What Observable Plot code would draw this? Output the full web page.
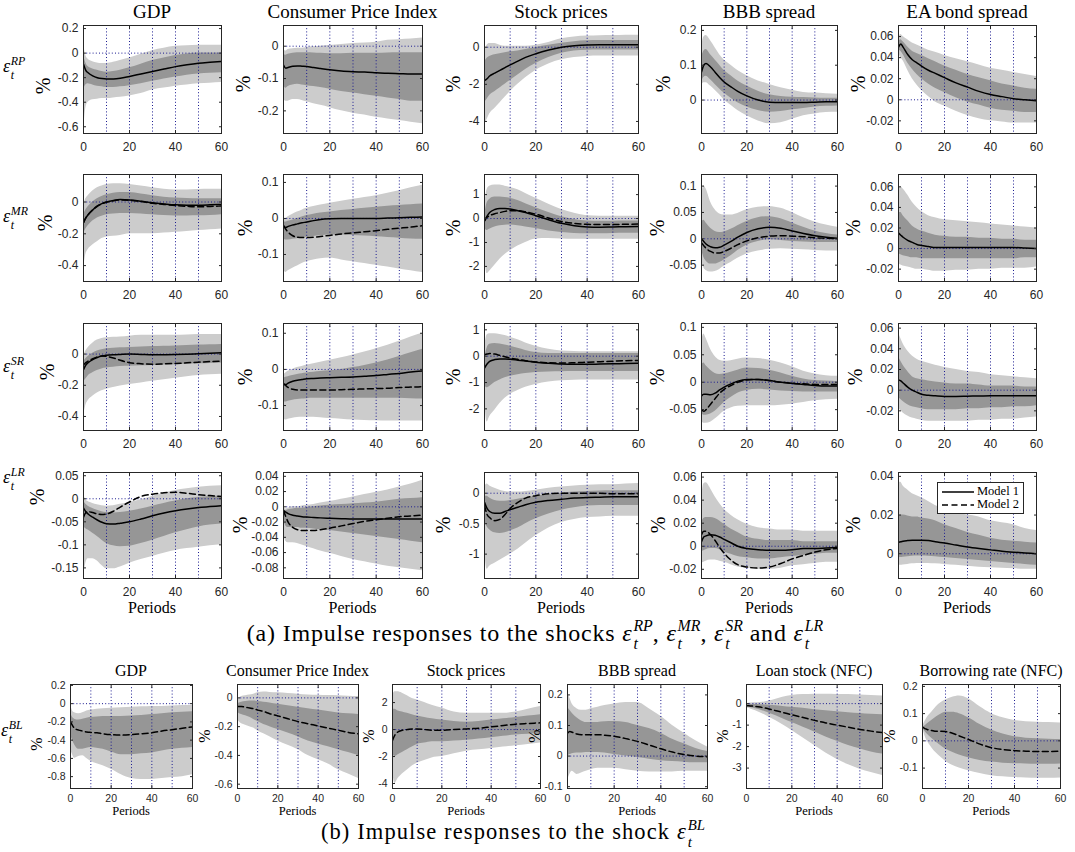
<!DOCTYPE html>
<html><head><meta charset="utf-8">
<script src="https://cdn.jsdelivr.net/npm/d3@7"></script>
<script src="https://cdn.jsdelivr.net/npm/@observablehq/plot@0.6"></script>
<style>
html,body{margin:0;padding:0;background:#fff;}
#fig{position:relative;width:1075px;height:852px;overflow:hidden;font-family:"Liberation Serif","Times New Roman",serif;color:#000;}
.txt{position:absolute;transform:translate(-50%,-50%);white-space:nowrap;line-height:1;font-family:"Liberation Serif","Times New Roman",serif;font-weight:normal;}
.title{font-size:19px;}
.titleb{font-size:16px;}
.per{font-size:16px;}
.perb{font-size:12.5px;}
.pct{font-size:20px;transform:translate(-50%,-50%) rotate(-90deg);}
.pctb{font-size:16px;transform:translate(-50%,-50%) rotate(-90deg);}
.epsl{position:absolute;white-space:nowrap;line-height:1;font-size:18px;font-family:"Liberation Serif","Times New Roman",serif;}
.cap{position:absolute;transform:translateX(-50%);white-space:nowrap;line-height:1;font-size:22.5px;letter-spacing:1.1px;font-family:"Liberation Serif","Times New Roman",serif;}
.cap.big{font-size:24px;letter-spacing:0.8px;}
.e{font-style:italic;}
.ss{display:inline-flex;flex-direction:column;font-size:0.66em;font-style:italic;line-height:1.2;vertical-align:0.62em;margin-left:0.06em;text-align:left;letter-spacing:0;}
.cap .ss{line-height:1.15;}
.ss span{display:block;}
.plot{position:absolute;}
.legend{position:absolute;border:1px solid #262626;background:#fff;font-size:12.5px;padding:2px 4px 2px 3px;line-height:13px;font-family:"Liberation Serif","Times New Roman",serif;}
.legend svg{vertical-align:middle;margin-right:2px;}
</style></head><body><div id="fig"></div><script>
// ---------------- data ----------------
const P = [0,1,2,4,6,8,10,13,16,20,25,30,35,40,45,50,55,60];
const XTICKS = [0,20,40,60];
const GRIDX = [10,20,30,40,50];
const VARS_A = ["GDP","Consumer Price Index","Stock prices","BBB spread","EA bond spread"];
const VARS_B = ["GDP","Consumer Price Index","Stock prices","BBB spread","Loan stock (NFC)","Borrowing rate (NFC)"];
const SHOCKS_A = ["RP","MR","SR","LR"];
const SHOCK_B = "BL";
const MODELS = ["Model 1","Model 2"];
// rows of each panel: outer low, inner low, inner high, outer high, Model 1, Model 2
const RP_GDP = [
 [-0.65,-0.45,-0.40,-0.38,-0.375,-0.37,-0.37,-0.365,-0.36,-0.35,-0.33,-0.30,-0.285,-0.27,-0.26,-0.25,-0.245,-0.24],
 [-0.30,-0.26,-0.25,-0.26,-0.27,-0.275,-0.28,-0.28,-0.275,-0.265,-0.25,-0.23,-0.21,-0.195,-0.18,-0.17,-0.165,-0.16],
 [-0.02,-0.08,-0.11,-0.13,-0.14,-0.15,-0.155,-0.15,-0.14,-0.12,-0.09,-0.06,-0.04,-0.02,-0.008,0,0,0],
 [0.08,-0.02,-0.05,-0.07,-0.08,-0.085,-0.085,-0.075,-0.06,-0.04,-0.01,0.02,0.04,0.055,0.06,0.065,0.065,0.065],
 [-0.09,-0.14,-0.16,-0.185,-0.2,-0.207,-0.21,-0.21,-0.205,-0.19,-0.17,-0.15,-0.13,-0.11,-0.095,-0.083,-0.075,-0.068],
 null];
const RP_CPI = [
 [-0.165,-0.17,-0.17,-0.165,-0.165,-0.168,-0.172,-0.178,-0.183,-0.19,-0.2,-0.207,-0.213,-0.22,-0.225,-0.23,-0.235,-0.24],
 [-0.12,-0.13,-0.125,-0.12,-0.118,-0.12,-0.122,-0.125,-0.128,-0.133,-0.14,-0.145,-0.15,-0.155,-0.16,-0.165,-0.17,-0.17],
 [-0.025,-0.028,-0.025,-0.022,-0.02,-0.02,-0.02,-0.021,-0.022,-0.023,-0.023,-0.022,-0.022,-0.022,-0.021,-0.02,-0.02,-0.02],
 [-0.01,-0.015,-0.01,-0.008,-0.006,-0.006,-0.004,-0.002,0,0.002,0.005,0.008,0.01,0.012,0.018,0.02,0.022,0.025],
 [-0.058,-0.068,-0.066,-0.062,-0.061,-0.062,-0.063,-0.066,-0.069,-0.073,-0.077,-0.079,-0.08,-0.082,-0.084,-0.085,-0.086,-0.086],
 null];
const RP_STOCK = [
 [-4.2,-3.9,-3.6,-3.3,-3.0,-2.7,-2.4,-2.0,-1.65,-1.25,-0.9,-0.68,-0.56,-0.5,-0.48,-0.48,-0.48,-0.48],
 [-3.0,-2.8,-2.6,-2.4,-2.2,-2.0,-1.8,-1.5,-1.2,-0.88,-0.55,-0.32,-0.2,-0.16,-0.15,-0.15,-0.15,-0.15],
 [-0.8,-0.6,-0.5,-0.4,-0.35,-0.3,-0.25,-0.2,-0.12,-0.02,0.1,0.22,0.3,0.35,0.36,0.36,0.36,0.36],
 [-0.2,0.1,0.2,0.2,0.1,0.05,0.05,0.05,0.05,0.1,0.25,0.45,0.55,0.6,0.62,0.63,0.65,0.65],
 [-1.8,-1.7,-1.55,-1.4,-1.25,-1.1,-0.95,-0.75,-0.55,-0.35,-0.15,0,0.08,0.12,0.13,0.13,0.13,0.13],
 null];
const RP_BBB = [
 [0.04,0.05,0.05,0.04,0.028,0.015,0,-0.015,-0.03,-0.045,-0.06,-0.068,-0.065,-0.055,-0.045,-0.04,-0.036,-0.035],
 [0.05,0.065,0.068,0.058,0.045,0.032,0.02,0.005,-0.008,-0.02,-0.03,-0.035,-0.033,-0.028,-0.024,-0.02,-0.018,-0.017],
 [0.12,0.14,0.145,0.13,0.115,0.1,0.085,0.07,0.055,0.04,0.025,0.015,0.01,0.008,0.007,0.006,0.005,0.005],
 [0.15,0.18,0.185,0.17,0.15,0.13,0.115,0.1,0.085,0.07,0.055,0.045,0.035,0.028,0.022,0.02,0.018,0.017],
 [0.08,0.1,0.105,0.095,0.08,0.065,0.052,0.038,0.025,0.012,0,-0.006,-0.007,-0.007,-0.007,-0.006,-0.005,-0.005],
 null];
const RP_EA = [
 [0.044,0.04,0.037,0.028,0.02,0.014,0.009,0.003,-0.002,-0.006,-0.011,-0.015,-0.018,-0.02,-0.021,-0.022,-0.022,-0.022],
 [0.047,0.046,0.043,0.035,0.029,0.024,0.02,0.015,0.011,0.007,0.002,-0.002,-0.005,-0.008,-0.01,-0.011,-0.012,-0.012],
 [0.055,0.057,0.055,0.05,0.046,0.044,0.042,0.039,0.036,0.032,0.028,0.024,0.021,0.018,0.015,0.013,0.011,0.01],
 [0.058,0.062,0.06,0.057,0.054,0.052,0.05,0.047,0.045,0.042,0.039,0.036,0.033,0.03,0.028,0.026,0.024,0.022],
 [0.05,0.053,0.05,0.043,0.038,0.035,0.032,0.028,0.025,0.021,0.016,0.012,0.008,0.005,0.003,0.001,0,-0.001],
 null];
const MR_GDP = [
 [-0.42,-0.33,-0.3,-0.27,-0.25,-0.23,-0.22,-0.215,-0.21,-0.2,-0.2,-0.2,-0.195,-0.19,-0.185,-0.18,-0.175,-0.17],
 [-0.2,-0.17,-0.15,-0.12,-0.1,-0.09,-0.08,-0.075,-0.072,-0.072,-0.075,-0.08,-0.085,-0.088,-0.088,-0.087,-0.085,-0.08],
 [-0.08,-0.05,-0.03,0,0.02,0.035,0.045,0.055,0.06,0.06,0.05,0.04,0.03,0.025,0.022,0.02,0.02,0.02],
 [-0.02,0.02,0.04,0.07,0.09,0.1,0.11,0.115,0.115,0.11,0.1,0.09,0.08,0.075,0.075,0.078,0.08,0.08],
 [-0.13,-0.1,-0.08,-0.05,-0.025,-0.01,0,0.01,0.015,0.013,0.005,-0.005,-0.012,-0.018,-0.02,-0.02,-0.018,-0.015],
 [-0.13,-0.1,-0.08,-0.05,-0.027,-0.012,-0.002,0.008,0.013,0.011,0.003,-0.008,-0.015,-0.022,-0.027,-0.03,-0.028,-0.025]];
const MR_CPI = [
 [-0.14,-0.15,-0.145,-0.138,-0.132,-0.125,-0.12,-0.115,-0.112,-0.11,-0.115,-0.12,-0.125,-0.13,-0.135,-0.14,-0.145,-0.15],
 [-0.055,-0.06,-0.06,-0.058,-0.056,-0.054,-0.052,-0.05,-0.048,-0.046,-0.046,-0.047,-0.049,-0.051,-0.053,-0.055,-0.057,-0.058],
 [-0.01,-0.01,-0.008,-0.004,0,0.004,0.008,0.012,0.015,0.018,0.022,0.025,0.028,0.031,0.034,0.036,0.038,0.04],
 [-0.005,0,0.005,0.012,0.018,0.023,0.028,0.033,0.037,0.042,0.048,0.053,0.058,0.063,0.07,0.077,0.085,0.092],
 [-0.02,-0.025,-0.022,-0.018,-0.015,-0.012,-0.01,-0.006,-0.003,-0.001,0,0,0,0,0.001,0.002,0.003,0.004],
 [-0.02,-0.03,-0.038,-0.048,-0.052,-0.053,-0.053,-0.052,-0.05,-0.047,-0.043,-0.04,-0.037,-0.034,-0.03,-0.027,-0.024,-0.02]];
const MR_STOCK = [
 [-1.5,-2.3,-2.2,-1.95,-1.7,-1.5,-1.35,-1.15,-1.0,-0.85,-0.83,-0.85,-0.86,-0.87,-0.87,-0.86,-0.86,-0.86],
 [-0.4,-0.5,-0.45,-0.35,-0.3,-0.28,-0.27,-0.3,-0.35,-0.42,-0.52,-0.58,-0.62,-0.63,-0.63,-0.62,-0.61,-0.61],
 [0.1,0.65,0.8,0.9,0.9,0.88,0.85,0.75,0.62,0.45,0.25,0.07,-0.04,-0.1,-0.11,-0.11,-0.1,-0.1],
 [0.5,1.2,1.35,1.4,1.4,1.35,1.3,1.2,1.05,0.85,0.6,0.38,0.22,0.12,0.1,0.1,0.1,0.1],
 [-0.1,0.1,0.25,0.38,0.42,0.42,0.4,0.33,0.25,0.12,-0.05,-0.2,-0.3,-0.35,-0.36,-0.35,-0.34,-0.33],
 [-0.1,0.05,0.12,0.2,0.25,0.3,0.33,0.33,0.28,0.18,0.02,-0.12,-0.2,-0.24,-0.25,-0.25,-0.24,-0.23]];
const MR_BBB = [
 [-0.04,-0.055,-0.06,-0.063,-0.062,-0.058,-0.052,-0.045,-0.037,-0.029,-0.023,-0.02,-0.019,-0.02,-0.021,-0.022,-0.023,-0.023],
 [-0.02,-0.035,-0.042,-0.048,-0.048,-0.045,-0.04,-0.032,-0.022,-0.012,-0.005,-0.002,-0.003,-0.005,-0.006,-0.007,-0.007,-0.007],
 [0.03,0.035,0.03,0.02,0.014,0.012,0.013,0.018,0.025,0.033,0.04,0.042,0.038,0.03,0.022,0.015,0.01,0.007],
 [0.08,0.1,0.095,0.07,0.055,0.047,0.045,0.045,0.048,0.055,0.06,0.061,0.058,0.05,0.04,0.032,0.026,0.022],
 [0,-0.005,-0.01,-0.015,-0.017,-0.016,-0.012,-0.005,0.003,0.012,0.019,0.022,0.02,0.015,0.01,0.006,0.003,0.001],
 [-0.008,-0.013,-0.018,-0.024,-0.027,-0.027,-0.024,-0.018,-0.011,-0.004,0.002,0.005,0.006,0.005,0.004,0.002,0.001,0]];
const MR_EA = [
 [-0.015,-0.016,-0.017,-0.018,-0.019,-0.02,-0.02,-0.021,-0.022,-0.022,-0.021,-0.021,-0.02,-0.02,-0.019,-0.019,-0.019,-0.018],
 [-0.005,-0.006,-0.007,-0.008,-0.009,-0.009,-0.01,-0.01,-0.01,-0.01,-0.01,-0.01,-0.01,-0.01,-0.01,-0.01,-0.009,-0.009],
 [0.035,0.035,0.032,0.027,0.022,0.019,0.017,0.015,0.013,0.012,0.011,0.011,0.01,0.01,0.009,0.009,0.008,0.008],
 [0.06,0.06,0.058,0.052,0.045,0.04,0.036,0.032,0.03,0.028,0.027,0.026,0.025,0.024,0.023,0.022,0.021,0.02],
 [0.015,0.013,0.011,0.008,0.006,0.004,0.003,0.002,0.001,0.001,0.001,0.001,0.001,0.001,0.001,0.001,0.0005,0],
 null];
const SR_GDP = [
 [-0.4,-0.33,-0.3,-0.27,-0.25,-0.235,-0.225,-0.215,-0.205,-0.195,-0.185,-0.175,-0.165,-0.155,-0.145,-0.138,-0.133,-0.13],
 [-0.18,-0.16,-0.14,-0.12,-0.105,-0.095,-0.09,-0.085,-0.08,-0.078,-0.075,-0.073,-0.07,-0.068,-0.065,-0.062,-0.06,-0.058],
 [-0.05,-0.03,-0.015,0.005,0.02,0.028,0.034,0.038,0.04,0.042,0.045,0.048,0.05,0.052,0.055,0.058,0.06,0.062],
 [-0.01,0.02,0.04,0.07,0.09,0.1,0.105,0.108,0.11,0.115,0.12,0.12,0.12,0.12,0.122,0.125,0.125,0.125],
 [-0.1,-0.07,-0.055,-0.035,-0.022,-0.013,-0.008,-0.004,-0.002,0,-0.002,-0.004,-0.004,-0.003,-0.001,0.002,0.005,0.008],
 [-0.07,-0.055,-0.045,-0.03,-0.018,-0.012,-0.015,-0.025,-0.04,-0.055,-0.062,-0.065,-0.063,-0.06,-0.056,-0.052,-0.048,-0.045]];
const SR_CPI = [
 [-0.135,-0.14,-0.138,-0.135,-0.133,-0.132,-0.132,-0.132,-0.134,-0.136,-0.138,-0.14,-0.141,-0.142,-0.143,-0.143,-0.143,-0.143],
 [-0.09,-0.09,-0.088,-0.085,-0.083,-0.082,-0.081,-0.08,-0.08,-0.08,-0.08,-0.08,-0.08,-0.08,-0.08,-0.08,-0.081,-0.082],
 [-0.025,-0.022,-0.02,-0.017,-0.014,-0.012,-0.01,-0.008,-0.006,-0.004,0,0.005,0.011,0.018,0.026,0.036,0.046,0.056],
 [-0.015,-0.01,-0.005,0,0.005,0.008,0.012,0.016,0.02,0.025,0.032,0.04,0.048,0.057,0.067,0.078,0.09,0.1],
 [-0.04,-0.042,-0.038,-0.033,-0.03,-0.028,-0.026,-0.025,-0.024,-0.023,-0.022,-0.021,-0.019,-0.017,-0.014,-0.011,-0.007,-0.004],
 [-0.04,-0.045,-0.05,-0.055,-0.057,-0.057,-0.057,-0.057,-0.057,-0.057,-0.056,-0.055,-0.054,-0.053,-0.052,-0.05,-0.049,-0.048]];
const SR_STOCK = [
 [-1.6,-2.5,-2.3,-2.05,-1.8,-1.6,-1.45,-1.3,-1.18,-1.07,-0.98,-0.93,-0.91,-0.9,-0.9,-0.9,-0.9,-0.9],
 [-1.1,-1.2,-1.15,-1.0,-0.9,-0.82,-0.76,-0.7,-0.66,-0.62,-0.6,-0.59,-0.58,-0.58,-0.58,-0.58,-0.58,-0.58],
 [-0.1,0.3,0.45,0.48,0.46,0.42,0.38,0.3,0.22,0.14,0.1,0.1,0.1,0.1,0.1,0.1,0.1,0.1],
 [0.3,0.8,0.85,0.85,0.82,0.78,0.72,0.62,0.5,0.38,0.26,0.2,0.18,0.17,0.17,0.17,0.17,0.17],
 [-0.45,-0.3,-0.2,-0.13,-0.11,-0.11,-0.12,-0.15,-0.18,-0.23,-0.27,-0.3,-0.31,-0.31,-0.3,-0.29,-0.28,-0.27],
 [0.05,0.08,0.1,0.08,0.03,-0.02,-0.07,-0.12,-0.17,-0.22,-0.25,-0.26,-0.25,-0.23,-0.21,-0.19,-0.17,-0.16]];
const SR_BBB = [
 [-0.07,-0.075,-0.075,-0.073,-0.067,-0.06,-0.053,-0.047,-0.044,-0.043,-0.043,-0.043,-0.042,-0.04,-0.037,-0.034,-0.032,-0.031],
 [-0.055,-0.06,-0.06,-0.058,-0.053,-0.045,-0.037,-0.028,-0.02,-0.015,-0.013,-0.014,-0.016,-0.017,-0.018,-0.018,-0.018,-0.018],
 [0.03,0.035,0.03,0.022,0.016,0.014,0.015,0.018,0.022,0.026,0.025,0.022,0.017,0.011,0.006,0.003,0.002,0.001],
 [0.07,0.088,0.08,0.06,0.047,0.04,0.038,0.039,0.042,0.044,0.043,0.04,0.035,0.028,0.02,0.015,0.012,0.011],
 [-0.025,-0.022,-0.022,-0.023,-0.02,-0.014,-0.009,-0.003,0.002,0.005,0.005,0.003,0,-0.002,-0.004,-0.006,-0.007,-0.007],
 [-0.05,-0.053,-0.05,-0.04,-0.03,-0.02,-0.013,-0.006,0,0.004,0.005,0.003,0,-0.002,-0.003,-0.004,-0.004,-0.004]];
const SR_EA = [
 [-0.017,-0.02,-0.022,-0.025,-0.027,-0.028,-0.029,-0.03,-0.03,-0.03,-0.03,-0.03,-0.029,-0.029,-0.028,-0.028,-0.027,-0.026],
 [-0.007,-0.009,-0.011,-0.014,-0.016,-0.017,-0.018,-0.019,-0.019,-0.019,-0.019,-0.018,-0.018,-0.017,-0.017,-0.016,-0.016,-0.015],
 [0.032,0.028,0.024,0.018,0.013,0.011,0.01,0.009,0.008,0.007,0.006,0.006,0.005,0.004,0.004,0.004,0.003,0.003],
 [0.055,0.05,0.045,0.038,0.033,0.03,0.028,0.026,0.024,0.022,0.02,0.018,0.017,0.015,0.014,0.013,0.012,0.011],
 [0.01,0.009,0.007,0.003,0,-0.002,-0.004,-0.005,-0.0055,-0.006,-0.006,-0.0058,-0.0056,-0.0055,-0.0055,-0.0055,-0.0055,-0.0055],
 null];
const LR_GDP = [
 [-0.17,-0.14,-0.13,-0.13,-0.135,-0.145,-0.152,-0.152,-0.148,-0.14,-0.132,-0.125,-0.118,-0.112,-0.108,-0.105,-0.102,-0.1],
 [-0.06,-0.065,-0.068,-0.075,-0.082,-0.09,-0.097,-0.102,-0.104,-0.103,-0.097,-0.09,-0.082,-0.074,-0.067,-0.061,-0.057,-0.055],
 [-0.005,-0.012,-0.016,-0.021,-0.025,-0.028,-0.03,-0.031,-0.03,-0.027,-0.022,-0.016,-0.01,-0.005,0,0.003,0.005,0.006],
 [0.01,-0.002,-0.006,-0.01,-0.013,-0.015,-0.016,-0.015,-0.012,-0.008,-0.002,0.005,0.012,0.018,0.022,0.025,0.027,0.028],
 [-0.02,-0.028,-0.033,-0.04,-0.046,-0.051,-0.054,-0.055,-0.053,-0.05,-0.044,-0.037,-0.031,-0.026,-0.022,-0.019,-0.017,-0.015],
 [-0.04,-0.03,-0.028,-0.03,-0.033,-0.034,-0.033,-0.027,-0.018,-0.007,0.005,0.01,0.013,0.014,0.012,0.009,0.007,0.005]];
const LR_CPI = [
 [-0.035,-0.045,-0.047,-0.047,-0.048,-0.05,-0.052,-0.055,-0.058,-0.061,-0.065,-0.069,-0.072,-0.075,-0.078,-0.08,-0.082,-0.084],
 [-0.015,-0.025,-0.027,-0.027,-0.027,-0.028,-0.028,-0.029,-0.03,-0.031,-0.033,-0.035,-0.037,-0.039,-0.041,-0.043,-0.045,-0.047],
 [-0.003,-0.005,-0.004,-0.003,-0.002,-0.002,-0.001,0,0.001,0.002,0.003,0.004,0.005,0.006,0.008,0.01,0.011,0.012],
 [0,-0.003,-0.002,0,0,0.001,0.002,0.003,0.005,0.007,0.01,0.013,0.016,0.019,0.022,0.026,0.03,0.035],
 [-0.005,-0.007,-0.009,-0.011,-0.012,-0.013,-0.0135,-0.014,-0.0145,-0.015,-0.0155,-0.016,-0.016,-0.016,-0.016,-0.016,-0.016,-0.016],
 [-0.005,-0.013,-0.02,-0.027,-0.03,-0.031,-0.031,-0.031,-0.03,-0.028,-0.025,-0.022,-0.019,-0.017,-0.015,-0.013,-0.012,-0.011]];
const LR_STOCK = [
 [-0.9,-1.25,-1.2,-1.15,-1.1,-1.05,-1.0,-0.92,-0.82,-0.7,-0.57,-0.48,-0.43,-0.4,-0.39,-0.38,-0.38,-0.38],
 [-0.45,-0.55,-0.6,-0.65,-0.66,-0.65,-0.62,-0.57,-0.5,-0.42,-0.34,-0.28,-0.24,-0.21,-0.2,-0.2,-0.2,-0.2],
 [-0.05,-0.05,-0.08,-0.12,-0.13,-0.13,-0.12,-0.1,-0.08,-0.05,-0.02,0,0.02,0.03,0.035,0.04,0.04,0.04],
 [0.1,0.15,0.12,0.08,0.05,0.03,0.02,0.02,0.03,0.05,0.08,0.1,0.12,0.13,0.14,0.14,0.15,0.16],
 [-0.15,-0.25,-0.3,-0.33,-0.33,-0.3,-0.27,-0.23,-0.19,-0.15,-0.12,-0.1,-0.08,-0.07,-0.065,-0.06,-0.06,-0.06],
 [-0.2,-0.35,-0.4,-0.45,-0.43,-0.35,-0.25,-0.15,-0.08,-0.04,-0.01,0,0,0,0,-0.01,-0.01,-0.01]];
const LR_BBB = [
 [-0.015,-0.014,-0.013,-0.012,-0.012,-0.013,-0.014,-0.016,-0.018,-0.019,-0.02,-0.02,-0.019,-0.017,-0.016,-0.015,-0.014,-0.014],
 [-0.005,-0.004,-0.003,-0.002,-0.002,-0.003,-0.005,-0.007,-0.009,-0.01,-0.011,-0.011,-0.01,-0.009,-0.008,-0.007,-0.006,-0.006],
 [0.02,0.024,0.025,0.025,0.024,0.022,0.019,0.015,0.012,0.008,0.006,0.005,0.005,0.005,0.004,0.004,0.004,0.004],
 [0.04,0.054,0.055,0.05,0.043,0.037,0.032,0.027,0.023,0.019,0.016,0.015,0.014,0.014,0.013,0.013,0.013,0.013],
 [0.004,0.008,0.009,0.01,0.0095,0.008,0.006,0.003,0,-0.002,-0.003,-0.0035,-0.0035,-0.003,-0.002,-0.002,-0.0015,-0.001],
 [0.01,0.013,0.013,0.01,0.005,-0.001,-0.006,-0.012,-0.016,-0.018,-0.019,-0.018,-0.015,-0.011,-0.008,-0.005,-0.003,-0.002]];
const LR_EA = [
 [-0.006,-0.006,-0.0058,-0.0055,-0.0052,-0.005,-0.005,-0.005,-0.0052,-0.0055,-0.006,-0.0065,-0.007,-0.0072,-0.0075,-0.0078,-0.008,-0.008],
 [-0.002,-0.002,-0.0018,-0.0015,-0.0013,-0.0012,-0.0012,-0.0013,-0.0015,-0.002,-0.0025,-0.003,-0.0035,-0.004,-0.0045,-0.005,-0.0055,-0.006],
 [0.02,0.02,0.02,0.0195,0.019,0.019,0.0185,0.018,0.017,0.015,0.013,0.011,0.0095,0.008,0.007,0.0065,0.006,0.0055],
 [0.037,0.037,0.035,0.033,0.031,0.03,0.029,0.027,0.025,0.023,0.021,0.02,0.019,0.017,0.016,0.015,0.013,0.012],
 [0.006,0.0062,0.0065,0.0068,0.007,0.007,0.007,0.0068,0.0062,0.0055,0.0045,0.0035,0.0027,0.002,0.0013,0.0008,0.0004,0],
 null];
const BL_GDP = [
 [-0.5,-0.56,-0.6,-0.58,-0.57,-0.6,-0.63,-0.66,-0.68,-0.72,-0.78,-0.82,-0.83,-0.83,-0.82,-0.81,-0.8,-0.78],
 [-0.35,-0.4,-0.45,-0.5,-0.5,-0.49,-0.48,-0.49,-0.5,-0.53,-0.56,-0.56,-0.55,-0.54,-0.52,-0.5,-0.49,-0.48],
 [-0.1,-0.15,-0.17,-0.18,-0.17,-0.16,-0.15,-0.145,-0.14,-0.14,-0.14,-0.135,-0.13,-0.12,-0.11,-0.1,-0.095,-0.09],
 [0,-0.08,-0.1,-0.11,-0.1,-0.08,-0.07,-0.06,-0.055,-0.05,-0.045,-0.04,-0.035,-0.03,-0.03,-0.025,-0.02,-0.02],
 null,
 [-0.2,-0.24,-0.27,-0.29,-0.3,-0.31,-0.315,-0.32,-0.33,-0.34,-0.345,-0.34,-0.33,-0.32,-0.3,-0.285,-0.27,-0.255]];
const BL_CPI = [
 [-0.15,-0.17,-0.18,-0.19,-0.2,-0.21,-0.23,-0.25,-0.27,-0.3,-0.33,-0.36,-0.4,-0.43,-0.46,-0.5,-0.53,-0.56],
 [-0.1,-0.11,-0.115,-0.125,-0.135,-0.15,-0.165,-0.185,-0.2,-0.22,-0.245,-0.27,-0.3,-0.32,-0.34,-0.36,-0.38,-0.4],
 [-0.04,-0.035,-0.03,-0.025,-0.022,-0.022,-0.025,-0.03,-0.035,-0.045,-0.055,-0.065,-0.075,-0.085,-0.095,-0.105,-0.11,-0.115],
 [-0.02,0,0.01,0.015,0.02,0.025,0.035,0.04,0.038,0.035,0.03,0.025,0.02,0.018,0.016,0.015,0.012,0.01],
 null,
 [-0.06,-0.06,-0.06,-0.065,-0.07,-0.075,-0.085,-0.095,-0.11,-0.125,-0.145,-0.165,-0.18,-0.195,-0.21,-0.225,-0.24,-0.25]];
const BL_STOCK = [
 [-3.0,-4.0,-3.7,-3.3,-3.0,-2.7,-2.5,-2.3,-2.1,-2.0,-1.8,-1.6,-1.5,-1.4,-1.3,-1.2,-1.1,-1.0],
 [-1.8,-2.0,-1.9,-1.7,-1.5,-1.3,-1.1,-1.0,-0.9,-0.9,-0.85,-0.8,-0.7,-0.6,-0.5,-0.4,-0.35,-0.3],
 [1.5,1.5,1.4,1.3,1.2,1.1,1.0,0.9,0.8,0.7,0.6,0.55,0.6,0.7,0.8,0.9,1.0,1.1],
 [2.5,2.8,2.8,2.7,2.5,2.3,2.2,2.0,1.8,1.6,1.3,1.2,1.2,1.2,1.2,1.3,1.5,1.7],
 null,
 [-0.8,-0.4,-0.2,-0.05,0,0.05,0.05,0,-0.05,-0.05,0,0.05,0.1,0.2,0.3,0.4,0.45,0.5]];
const BL_BBB = [
 [-0.08,-0.06,-0.05,-0.06,-0.055,-0.05,-0.045,-0.04,-0.04,-0.04,-0.045,-0.05,-0.052,-0.052,-0.052,-0.05,-0.05,-0.05],
 [0,0.005,0.008,0.01,0.01,0.012,0.012,0.012,0.01,0.005,0,-0.005,-0.01,-0.015,-0.018,-0.02,-0.022,-0.022],
 [0.16,0.15,0.14,0.125,0.115,0.11,0.11,0.11,0.112,0.113,0.11,0.1,0.09,0.075,0.055,0.04,0.025,0.015],
 [0.21,0.19,0.17,0.155,0.15,0.15,0.155,0.16,0.165,0.17,0.175,0.175,0.155,0.13,0.1,0.075,0.05,0.03],
 null,
 [0.075,0.08,0.078,0.072,0.07,0.07,0.07,0.07,0.068,0.065,0.057,0.048,0.036,0.024,0.013,0.005,0,-0.002]];
const BL_LOAN = [
 [-0.2,-0.22,-0.26,-0.33,-0.42,-0.52,-0.63,-0.8,-0.98,-1.25,-1.6,-1.95,-2.3,-2.6,-2.85,-3.05,-3.2,-3.35],
 [-0.15,-0.17,-0.19,-0.24,-0.3,-0.37,-0.45,-0.57,-0.7,-0.88,-1.1,-1.32,-1.55,-1.75,-1.95,-2.1,-2.25,-2.35],
 [-0.05,-0.04,-0.04,-0.04,-0.05,-0.06,-0.07,-0.1,-0.13,-0.17,-0.22,-0.28,-0.33,-0.38,-0.42,-0.46,-0.5,-0.52],
 [0,0.02,0.03,0.04,0.05,0.08,0.12,0.2,0.3,0.38,0.42,0.44,0.44,0.43,0.42,0.4,0.38,0.36],
 null,
 [-0.1,-0.1,-0.11,-0.13,-0.16,-0.2,-0.25,-0.33,-0.41,-0.52,-0.65,-0.78,-0.9,-1.0,-1.1,-1.2,-1.28,-1.35]];
const BL_RATE = [
 [0.05,0.02,0,-0.025,-0.045,-0.06,-0.075,-0.09,-0.1,-0.11,-0.12,-0.128,-0.132,-0.135,-0.136,-0.137,-0.137,-0.136],
 [0.05,0.035,0.025,0.01,-0.005,-0.018,-0.03,-0.042,-0.052,-0.062,-0.072,-0.078,-0.082,-0.084,-0.085,-0.086,-0.086,-0.085],
 [0.05,0.055,0.062,0.075,0.088,0.098,0.105,0.105,0.1,0.085,0.06,0.04,0.025,0.015,0.01,0.008,0.006,0.005],
 [0.05,0.07,0.085,0.105,0.125,0.14,0.15,0.16,0.165,0.155,0.125,0.1,0.085,0.075,0.07,0.068,0.067,0.066],
 null,
 [0.05,0.045,0.042,0.038,0.035,0.035,0.034,0.028,0.018,0.005,-0.012,-0.025,-0.032,-0.036,-0.038,-0.039,-0.039,-0.038]];
// y-axis domains and tick values, per row of panels
const Y_RP = [[-0.655,0.225],[-0.27,0.064],[-4.65,1.17],[-0.096,0.214],[-0.032,0.0705]];
const T_RP = [[-0.6,-0.4,-0.2,0,0.2],[-0.2,-0.1,0],[-4,-2,0],[0,0.1,0.2],[-0.02,0,0.02,0.04,0.06]];
const Y_MR = [[-0.5,0.173],[-0.175,0.122],[-2.63,1.84],[-0.081,0.122],[-0.032,0.072]];
const T_MR = [[-0.4,-0.2,0],[-0.1,0,0.1],[-2,-1,0,1],[-0.05,0,0.05,0.1],[-0.02,0,0.02,0.04,0.06]];
const Y_SR = [[-0.49,0.196],[-0.169,0.127],[-2.82,1.24],[-0.088,0.107],[-0.039,0.0645]];
const T_SR = [[-0.4,-0.2,0],[-0.1,0,0.1],[-2,-1,0,1],[-0.05,0,0.05,0.1],[-0.02,0,0.02,0.04,0.06]];
const Y_LR = [[-0.173,0.057],[-0.094,0.045],[-1.4,0.34],[-0.028,0.064],[-0.0128,0.042]];
const T_LR = [[-0.15,-0.1,-0.05,0,0.05],[-0.08,-0.06,-0.04,-0.02,0,0.02,0.04],[-1,-0.5,0],[-0.02,0,0.02,0.04,0.06],[0,0.02,0.04]];
const Y_BL = [[-0.93,0.21],[-0.63,0.093],[-4.37,3.34],[-0.106,0.234],[-3.95,0.89],[-0.175,0.207]];
const T_BL = [[-0.8,-0.6,-0.4,-0.2,0,0.2],[-0.6,-0.4,-0.2,0],[-4,-2,0,2],[-0.1,0,0.1,0.2],[-3,-2,-1,0],[-0.1,0,0.1,0.2]];

// ---------------- layout ----------------
const fig = document.getElementById("fig");
const COLS_A = [[83,221],[283,422],[484,638],[701,837],[898,1036]];
const ROWS_A = [[25,133],[174,281],[323,430],[472,578]];
const COLS_B = [[70,192],[237,358],[392,540],[567,707],[746,882],[922,1060]];
const ROW_B = [684,788];
const PCT_A = [
 [[40,7],[40,5],[31,5],[38,5],[40,5]],
 [[38,-5],[38,0],[31,0],[44,0],[45,0]],
 [[36,-5],[38,0],[31,0],[44,0],[43,0]],
 [[46,-28],[43,0],[41,0],[43,0],[45,0]]];
const EPS_A_TOP = [54,204,354,465];

function el(cls, html, x, y){
  const d=document.createElement("div"); d.className=cls; d.innerHTML=html;
  d.style.left=x+"px"; d.style.top=y+"px"; fig.appendChild(d); return d;
}
function eps(s){ return `<span class="e">ε</span><span class="ss"><span>${s}</span><span>t</span></span>`; }
// caption: horizontally centred; its plain-text part starts at contentTop
function caption(cls, html, cx, contentTop){
  const d = el(cls, html, cx, 0);
  const rg = document.createRange(); rg.selectNodeContents(d.firstChild);
  const r = rg.getBoundingClientRect(), fr = fig.getBoundingClientRect();
  d.style.top = (contentTop - (r.top - fr.top)) + "px";
}
const fmt = d => String(d);

function drawPanel(x0,x1,y0,y1,series,yDomain,yTicks,small){
  const [olo,ilo,ihi,ohi,m1,m2] = series;
  const rows = P.map((p,i)=>({p,olo:olo[i],ilo:ilo[i],ihi:ihi[i],ohi:ohi[i],m1:m1?m1[i]:null,m2:m2?m2[i]:null}));
  const ML=60,MR=10,MT=10,MB=28;
  const w=x1-x0,h=y1-y0;
  const fs=small?10.5:12;
  const curve="monotone-x";
  const grid={stroke:"#1a1a90",strokeDasharray:"1,2.2",strokeWidth:1};
  const marks=[
    Plot.areaY(rows,{x:"p",y1:"olo",y2:"ohi",fill:"#cccccc",curve,clip:true}),
    Plot.areaY(rows,{x:"p",y1:"ilo",y2:"ihi",fill:"#969696",curve,clip:true}),
    Plot.ruleX(GRIDX,grid),
    Plot.ruleY([0],grid)
  ];
  if(m1) marks.push(Plot.lineY(rows,{x:"p",y:"m1",stroke:"#000",strokeWidth:1.5,curve,clip:true}));
  if(m2) marks.push(Plot.lineY(rows,{x:"p",y:"m2",stroke:"#000",strokeWidth:1.5,strokeDasharray:"6,3.5",curve,clip:true}));
  marks.push(
    Plot.frame({stroke:"#262626",strokeWidth:1}),
    Plot.axisX(XTICKS,{anchor:"bottom",tickSize:-3,tickPadding:small?9:12,tickFormat:fmt,label:null,stroke:"#262626"}),
    Plot.axisX(XTICKS,{anchor:"top",tickSize:-3,tickFormat:()=>"",label:null,stroke:"#262626"}),
    Plot.axisY(yTicks,{anchor:"left",tickSize:-3,tickPadding:8,tickFormat:fmt,label:null,stroke:"#262626"}),
    Plot.axisY(yTicks,{anchor:"right",tickSize:-3,tickFormat:()=>"",label:null,stroke:"#262626"})
  );
  const svg=Plot.plot({width:w+ML+MR,height:h+MT+MB,marginLeft:ML,marginRight:MR,marginTop:MT,marginBottom:MB,
    x:{domain:[0,60]},y:{domain:yDomain},
    style:{background:"transparent",overflow:"visible",fontFamily:"'Liberation Sans',Arial,Helvetica,sans-serif",fontSize:fs+"px",color:"#262626"},
    marks});
  svg.classList.add("plot"); svg.style.left=(x0-ML)+"px"; svg.style.top=(y0-MT)+"px";
  fig.appendChild(svg);
}

// panel (a)
const DATA_A = [[RP_GDP,RP_CPI,RP_STOCK,RP_BBB,RP_EA],[MR_GDP,MR_CPI,MR_STOCK,MR_BBB,MR_EA],
                [SR_GDP,SR_CPI,SR_STOCK,SR_BBB,SR_EA],[LR_GDP,LR_CPI,LR_STOCK,LR_BBB,LR_EA]];
const YD_A=[Y_RP,Y_MR,Y_SR,Y_LR], YT_A=[T_RP,T_MR,T_SR,T_LR];
VARS_A.forEach((v,c)=>el("txt title",v,(COLS_A[c][0]+COLS_A[c][1])/2,11));
SHOCKS_A.forEach((s,r)=>{
  const [y0,y1]=ROWS_A[r];
  el("epsl",eps(s),3,EPS_A_TOP[r]);
  VARS_A.forEach((v,c)=>{
    const [x0,x1]=COLS_A[c];
    drawPanel(x0,x1,y0,y1,DATA_A[r][c],YD_A[r][c],YT_A[r][c],false);
    el("txt pct","%",x0-PCT_A[r][c][0],(y0+y1)/2+PCT_A[r][c][1]);
    if(r===3) el("txt per","Periods",(x0+x1)/2,y1+30);
  });
});
// legend
el("legend",MODELS.map((m,i)=>`<div><svg width="34" height="8"><line x1="1" y1="4" x2="33" y2="4" stroke="#000" stroke-width="1.5" ${i?'stroke-dasharray="6,3.5"':''}/></svg>${m}</div>`).join(""),937,482);
caption("cap big",`(a) Impulse responses to the shocks ${eps("RP")}, ${eps("MR")}, ${eps("SR")} and ${eps("LR")}`,535,620);

// panel (b)
const DATA_B=[BL_GDP,BL_CPI,BL_STOCK,BL_BBB,BL_LOAN,BL_RATE];
const fsB=10.5;
function labW(t){let w=0;for(const ch of String(t)){w+= ch==="-"?0.333:ch==="."?0.278:0.556;}return w*fsB;}
el("epsl",eps(SHOCK_B),1,718);
VARS_B.forEach((v,c)=>{
  const [x0,x1]=COLS_B[c],[y0,y1]=ROW_B;
  el("txt titleb",v,(x0+x1)/2,671);
  drawPanel(x0,x1,y0,y1,DATA_B[c],Y_BL[c],T_BL[c],true);
  const off=3+Math.max(...T_BL[c].map(labW))+11;
  el("txt pctb","%",x0-off+(c===0?-1:0),(y0+y1)/2+(c===0?8:0));
  el("txt perb","Periods",(x0+x1)/2,y1+23);
});
caption("cap",`(b) Impulse responses to the shock ${eps(SHOCK_B)}`,513,819);
</script></body></html>
